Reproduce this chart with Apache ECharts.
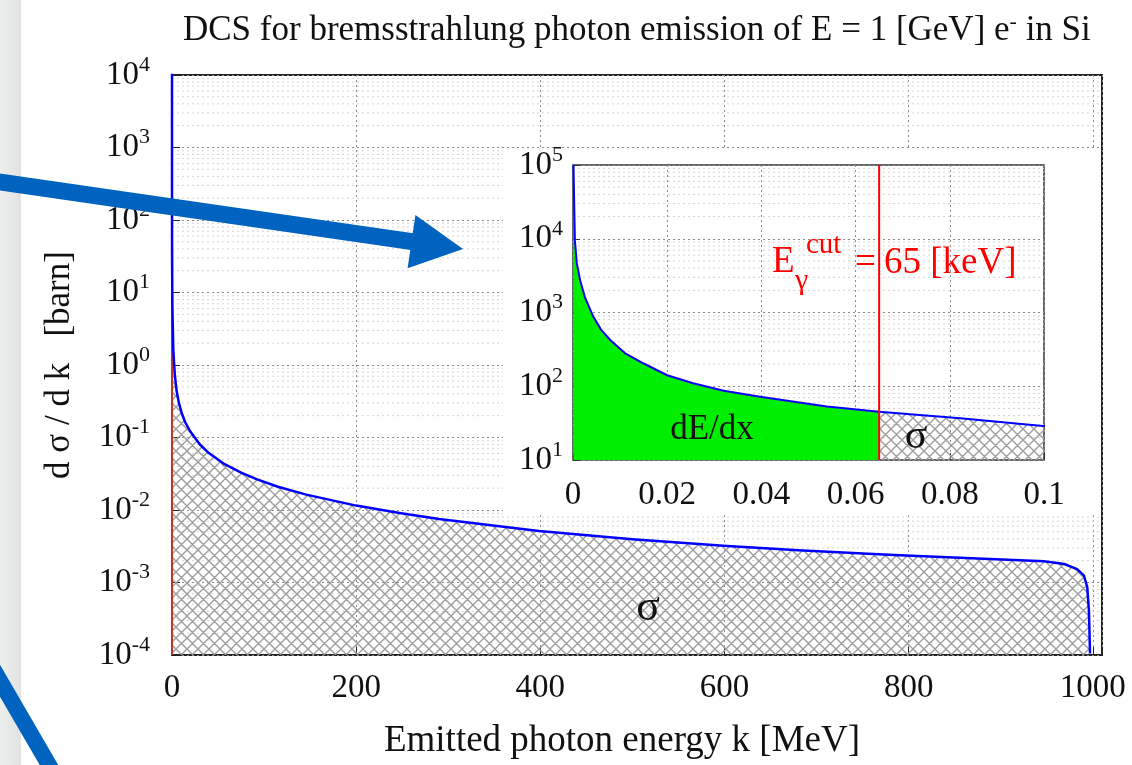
<!DOCTYPE html>
<html><head><meta charset="utf-8">
<script src="https://cdn.jsdelivr.net/npm/echarts@6/dist/echarts.min.js"></script>
<style>html,body{margin:0;padding:0;background:#fff}#c{width:1132px;height:765px}</style>
</head><body><div id="c"></div>
<script>
var FONT = '"Liberation Serif","Times New Roman",serif';
// low-k part of the differential cross section, k in MeV, dσ/dk in barn
var insetK   = [0.0001, 0.0004, 0.0008, 0.0015, 0.0025, 0.0043, 0.006, 0.0079, 0.011, 0.0149, 0.02, 0.0255, 0.032, 0.0397, 0.0539, 0.065, 0.0822, 0.0998];
var insetDCS = [100000, 9500, 4700, 2750, 1630, 880, 580, 424, 282, 205, 141, 110, 87, 72, 53, 45, 36.7, 29];
// full-range part
var mainK   = [0.4, 1.4, 3, 5.1, 7.5, 10.5, 14, 19.5, 30.3, 40, 55.6, 75, 91.7, 115, 145.8, 200, 247, 290, 398.5, 500, 598.8, 680, 767, 797, 875, 947, 969, 983, 990.4, 994, 995.8, 997];
var mainDCS = [6.5, 1.65, 0.75, 0.43, 0.30, 0.218, 0.166, 0.123, 0.080, 0.061, 0.044, 0.0327, 0.0267, 0.0209, 0.0163, 0.0115, 0.0091, 0.0075, 0.00514, 0.00396, 0.00322, 0.00279, 0.00245, 0.00236, 0.00215, 0.00197, 0.00180, 0.00153, 0.00124, 0.00086, 0.00041, 0.000105];
var kCut = 0.065;        // E_gamma cut in MeV
var mainXLabels  = ['0', '200', '400', '600', '800', '1000'];
var insetXLabels = ['0', '0.02', '0.04', '0.06', '0.08', '0.1'];

var allPts = [];
insetK.forEach(function (k, i) { allPts.push([k, insetDCS[i]]); });
mainK.forEach(function (k, i) { allPts.push([k, mainDCS[i]]); });
var cutVal = insetDCS[insetK.indexOf(kCut)];
var greenPts = allPts.filter(function (p) { return p[0] <= kCut; });
var hatchInsetPts = allPts.filter(function (p) { return p[0] >= kCut; });

function hatch() {
  var s = 11;
  var c = document.createElement('canvas'); c.width = s; c.height = s;
  var g = c.getContext('2d'); g.strokeStyle = '#9e9e9e'; g.lineWidth = 1.4; g.beginPath();
  for (var d = -s; d <= s; d += s) { g.moveTo(d, 0); g.lineTo(d + s, s); g.moveTo(d, s); g.lineTo(d + s, 0); }
  g.stroke(); return c;
}
var HATCH = { image: hatch(), repeat: 'repeat' };

function minorGrid(x0, x1, e0, e1) {
  var d = [];
  for (var e = e0; e < e1; e++) for (var m = 2; m <= 9; m++) {
    var v = m * Math.pow(10, e); d.push([x0, v], [x1, v], ['-', '-']);
  }
  return d;
}
function powLabel(v) { var e = Math.round(Math.log10(v)); return '{b|10}{s|' + e + '}'; }
var powRich = { b: { fontFamily: FONT, fontSize: 33, color: '#111' },
                s: { fontFamily: FONT, fontSize: 22, color: '#111', padding: [0, 0, 20, 0] } };
var majorSplit = { show: true, lineStyle: { color: '#8c8c8c', type: [2, 3], width: 1 } };
var minorStyle = { color: '#d4d4d4', type: [2, 3], width: 1 };

var chart = echarts.init(document.getElementById('c'));
chart.setOption({
  animation: false,
  backgroundColor: '#fff',
  title: { text: 'DCS for bremsstrahlung photon emission of E = 1 [GeV] e{s|-} in Si', left: 183, top: 11, padding: 0,
    textStyle: { fontFamily: FONT, fontSize: 35, fontWeight: 'normal', color: '#111',
      rich: { s: { fontFamily: FONT, fontSize: 22, color: '#111', padding: [0, 0, 18, 0] } } } },
  grid: [
    { left: 172, top: 75, right: 30, bottom: 106, show: true, borderColor: '#222', borderWidth: 2 },
    { left: 573, top: 165, right: 88, bottom: 305, show: true, backgroundColor: '#fff', borderColor: '#333', borderWidth: 1.5, z: 10 }
  ],
  xAxis: [
    { type: 'value', gridIndex: 0, min: 0, max: 1010, interval: 200,
      name: 'Emitted photon energy k [MeV]', nameLocation: 'middle', nameGap: 68,
      nameTextStyle: { fontFamily: FONT, fontSize: 37, color: '#111', padding: [0, 30, 0, 0] },
      axisLine: { show: false }, axisTick: { show: true, inside: true, length: 8, lineStyle: { color: '#222' } },
      axisLabel: { margin: 17, fontFamily: FONT, fontSize: 33, color: '#111',
        formatter: function (v) { var i = mainXLabels.indexOf(String(v)); return i >= 0 ? mainXLabels[i] : ''; } },
      splitLine: majorSplit },
    { type: 'value', gridIndex: 1, min: 0, max: 0.1, interval: 0.02, z: 11,
      axisLine: { show: false }, axisTick: { show: true, inside: true, length: 7, lineStyle: { color: '#333' } },
      axisLabel: { margin: 19, fontFamily: FONT, fontSize: 33, color: '#111',
        formatter: function (v) { return insetXLabels[Math.round(v / 0.02)]; } },
      splitLine: majorSplit }
  ],
  yAxis: [
    { type: 'log', logBase: 10, gridIndex: 0, min: 1e-4, max: 1e4, interval: 1, splitNumber: 8,
      name: 'd σ / d k   [barn]', nameLocation: 'middle', nameRotate: 90, nameGap: 95,
      nameTextStyle: { fontFamily: FONT, fontSize: 35, color: '#111' },
      axisLine: { show: false }, axisTick: { show: true, inside: true, length: 8, lineStyle: { color: '#222' } },
      axisLabel: { margin: 22, formatter: powLabel, rich: powRich },
      splitLine: majorSplit },
    { type: 'log', logBase: 10, gridIndex: 1, min: 10, max: 1e5, interval: 1, splitNumber: 4, z: 11,
      axisLine: { show: false }, axisTick: { show: true, inside: true, length: 7, lineStyle: { color: '#333' } },
      axisLabel: { margin: 10, formatter: powLabel, rich: powRich },
      splitLine: majorSplit }
  ],
  series: [
    { name: 'mainMinorGrid', type: 'line', xAxisIndex: 0, yAxisIndex: 0, z: 1, silent: true, symbol: 'none',
      connectNulls: false, lineStyle: minorStyle, data: minorGrid(0, 1010, -4, 4) },
    { name: 'σ (main)', type: 'line', xAxisIndex: 0, yAxisIndex: 0, z: 2, symbol: 'none',
      lineStyle: { width: 0 }, areaStyle: { color: HATCH, origin: 'start', opacity: 1 }, data: allPts },
    { name: 'cut (main)', type: 'line', xAxisIndex: 0, yAxisIndex: 0, z: 3, symbol: 'none',
      lineStyle: { color: '#c0392b', width: 2 }, data: [[kCut, 1e-4], [kCut, cutVal]] },
    { name: 'dσ/dk', type: 'line', xAxisIndex: 0, yAxisIndex: 0, z: 4, symbol: 'none',
      lineStyle: { color: '#0000ff', width: 2.5, join: 'round' }, data: allPts },

    { name: 'insetMinorGrid', type: 'line', xAxisIndex: 1, yAxisIndex: 1, z: 11, silent: true, symbol: 'none',
      connectNulls: false, lineStyle: minorStyle, data: minorGrid(0, 0.1, 1, 5) },
    { name: 'dE/dx', type: 'line', xAxisIndex: 1, yAxisIndex: 1, z: 12, symbol: 'none',
      lineStyle: { width: 0 }, areaStyle: { color: '#00ee00', origin: 'start', opacity: 1 }, data: greenPts },
    { name: 'σ (inset)', type: 'line', xAxisIndex: 1, yAxisIndex: 1, z: 12, symbol: 'none',
      lineStyle: { width: 0 }, areaStyle: { color: HATCH, origin: 'start', opacity: 1 }, data: hatchInsetPts },
    { name: 'dσ/dk (inset)', type: 'line', xAxisIndex: 1, yAxisIndex: 1, z: 13, symbol: 'none',
      lineStyle: { color: '#0000ff', width: 2, join: 'round' }, data: allPts },
    { name: 'E cut', type: 'line', xAxisIndex: 1, yAxisIndex: 1, z: 14, symbol: 'none',
      lineStyle: { color: '#ff0000', width: 2 }, data: [[kCut, 10], [kCut, 1e5]] }
  ],
  graphic: [
    { type: 'rect', z: 8, silent: true, shape: { x: 503, y: 150, width: 598, height: 365 }, style: { fill: '#fff' } },
    { type: 'text', z: 20, silent: true, style: { x: 648, y: 608, text: 'σ', align: 'center', verticalAlign: 'middle', fill: '#111', font: '44px "Liberation Serif"' } },
    { type: 'text', z: 20, silent: true, style: { x: 712, y: 430, text: 'dE/dx', align: 'center', verticalAlign: 'middle', fill: '#111', font: '35px "Liberation Serif"' } },
    { type: 'text', z: 20, silent: true, style: { x: 916, y: 437, text: 'σ', align: 'center', verticalAlign: 'middle', fill: '#111', font: '42px "Liberation Serif"' } },
    { type: 'text', z: 20, silent: true, style: { x: 772, y: 262, text: 'E', align: 'left', verticalAlign: 'middle', fill: '#ff0000', font: '37px "Liberation Serif"' } },
    { type: 'text', z: 20, silent: true, style: { x: 795, y: 281, text: 'γ', align: 'left', verticalAlign: 'middle', fill: '#ff0000', font: '30px "Liberation Serif"' } },
    { type: 'text', z: 20, silent: true, style: { x: 806, y: 245, text: 'cut', align: 'left', verticalAlign: 'middle', fill: '#ff0000', font: '29px "Liberation Serif"' } },
    { type: 'text', z: 20, silent: true, style: { x: 855, y: 263, text: '=', align: 'left', verticalAlign: 'middle', fill: '#ff0000', font: '37px "Liberation Serif"' } },
    { type: 'text', z: 20, silent: true, style: { x: 884, y: 263, text: '65 [keV]', align: 'left', verticalAlign: 'middle', fill: '#ff0000', font: '37px "Liberation Serif"' } },
    { type: 'rect', z: 90, silent: true, shape: { x: 0, y: 0, width: 21, height: 765 },
      style: { fill: { type: 'linear', x: 0, y: 0, x2: 1, y2: 0, colorStops: [{ offset: 0, color: '#eef0f0' }, { offset: 1, color: '#e0e2e2' }] } } },
    { type: 'line', z: 100, silent: true, shape: { x1: -5, y1: 181.3, x2: 412, y2: 241.6 }, style: { stroke: '#0063c0', lineWidth: 17 } },
    { type: 'polygon', z: 100, silent: true, shape: { points: [[463, 249], [415.4, 214.9], [407.6, 268.3]] }, style: { fill: '#0063c0' } },
    { type: 'line', z: 100, silent: true, shape: { x1: -8, y1: 667, x2: 58, y2: 780.5 }, style: { stroke: '#0063c0', lineWidth: 16 } }
  ]
});
</script></body></html>
